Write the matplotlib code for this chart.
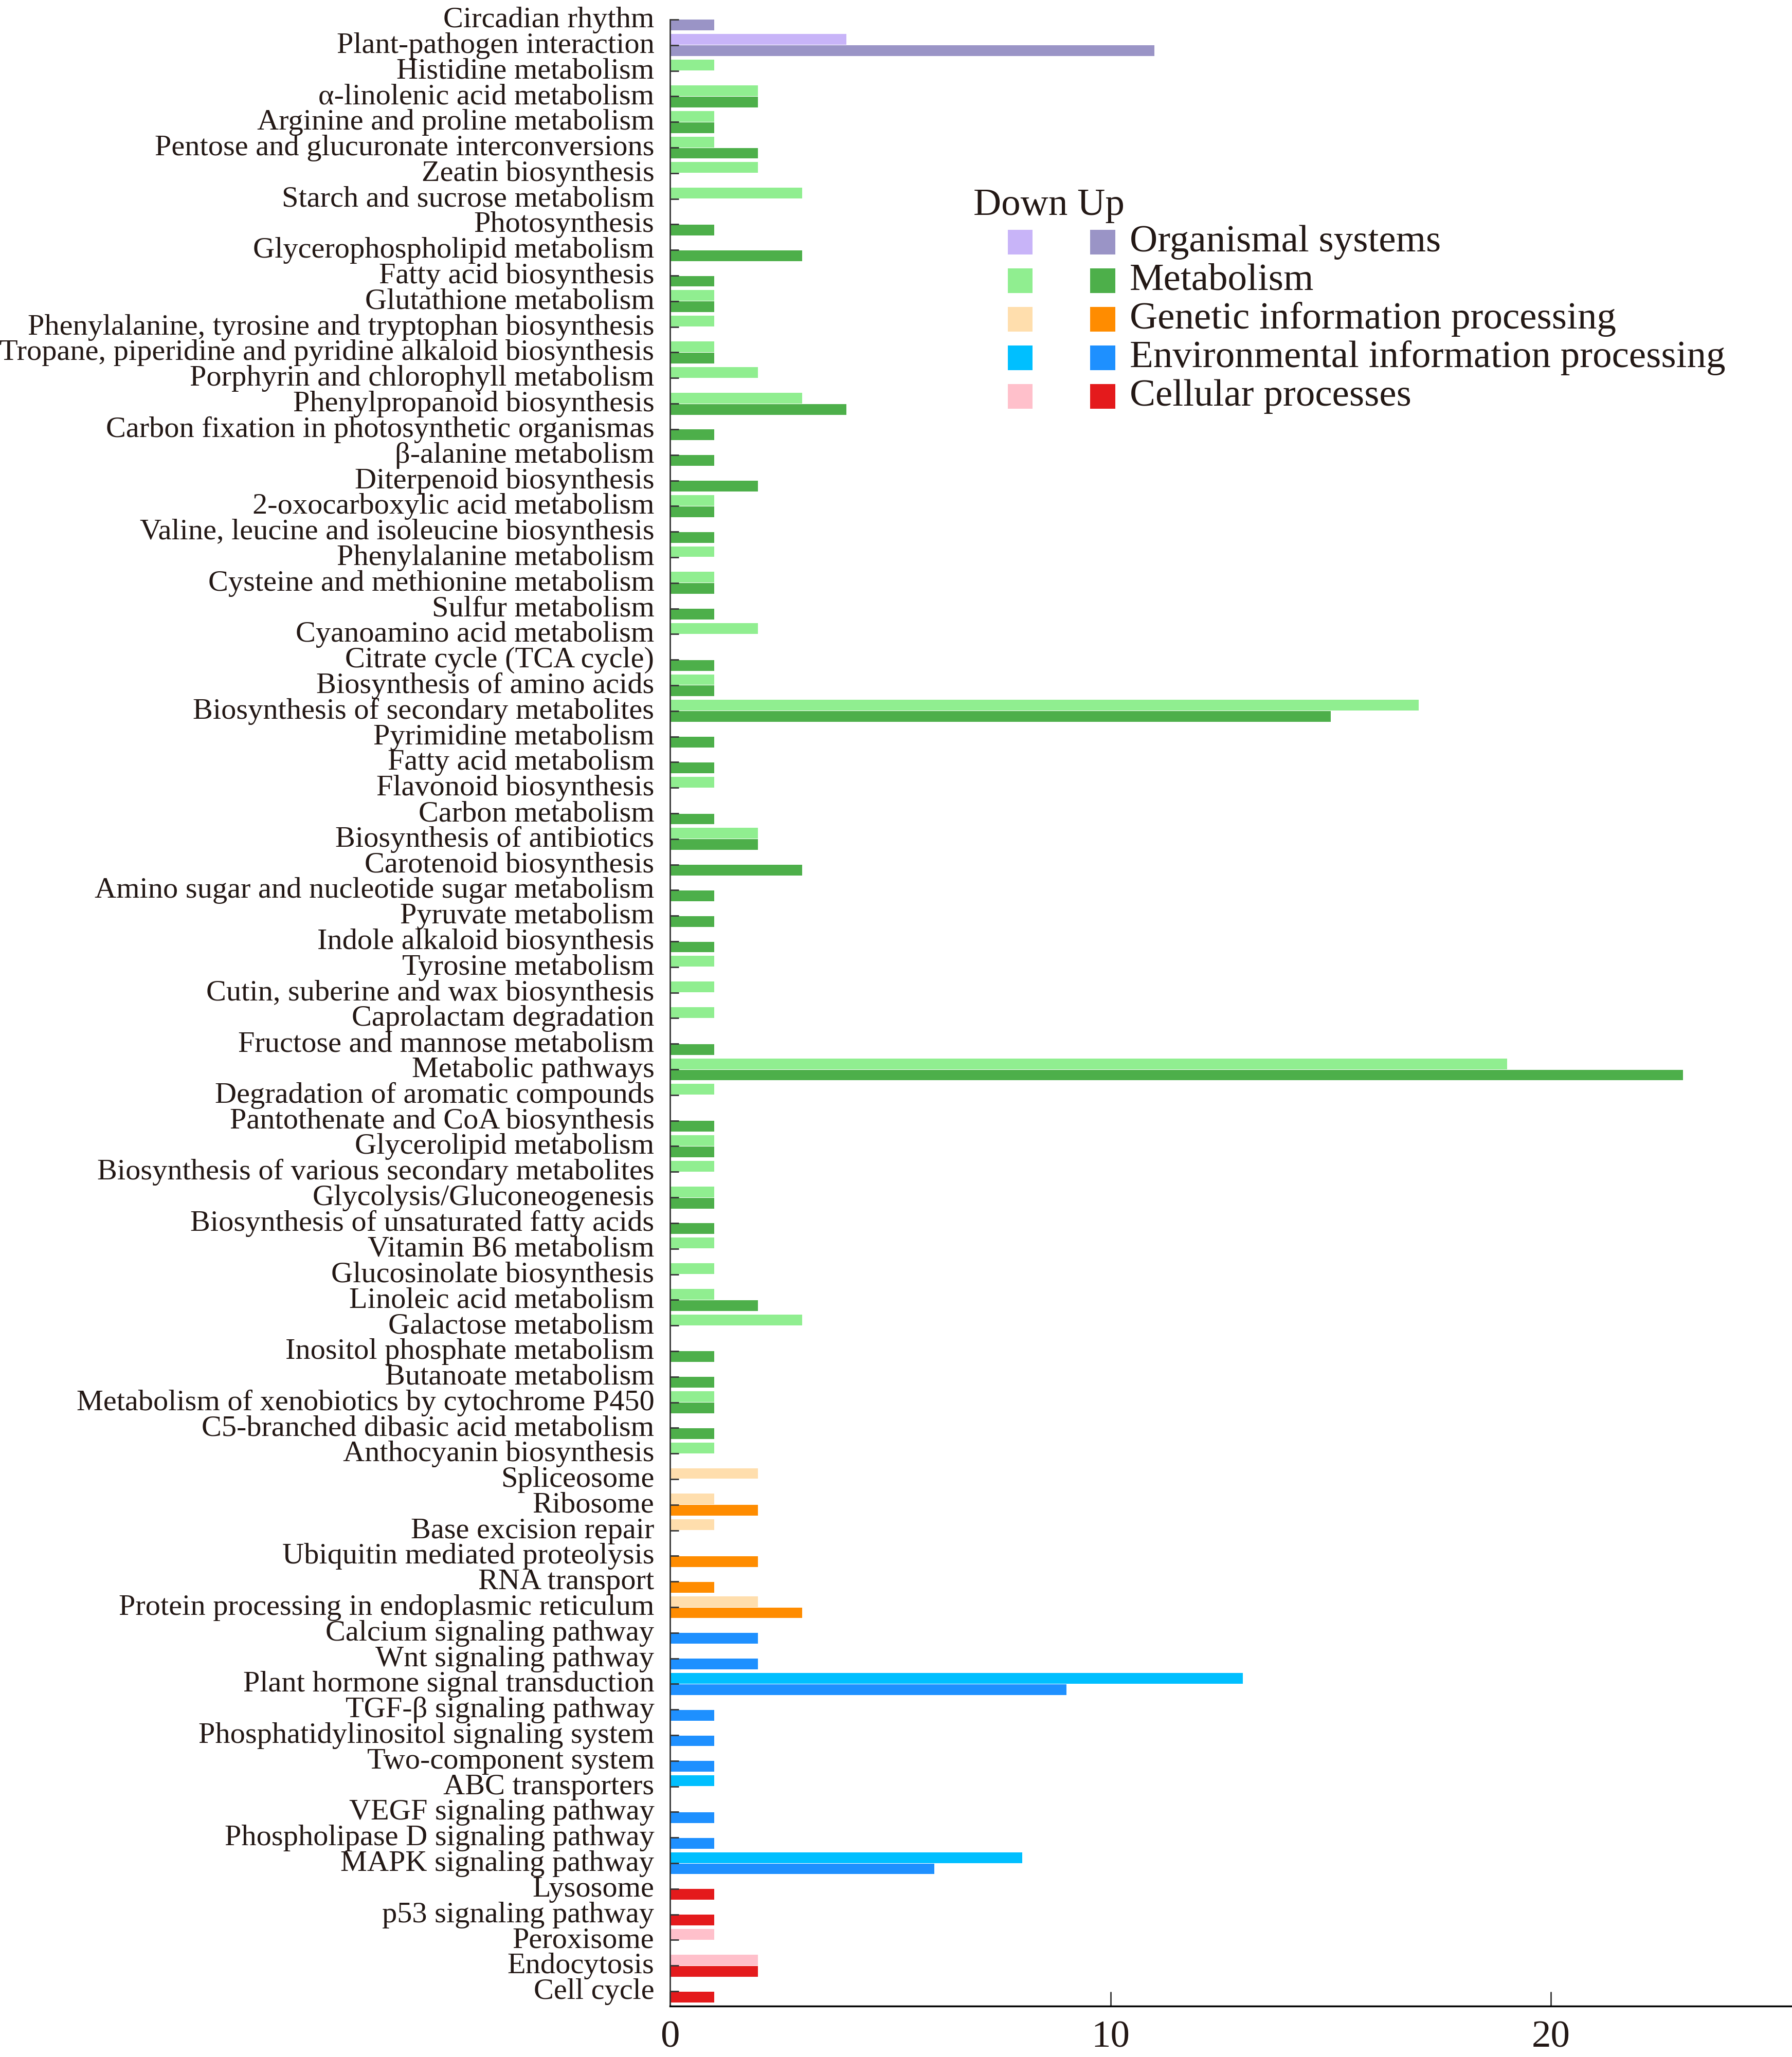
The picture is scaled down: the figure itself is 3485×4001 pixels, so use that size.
import matplotlib
matplotlib.use("Agg")
import matplotlib.pyplot as plt
import matplotlib.transforms as mtransforms
from matplotlib.patches import Rectangle
import numpy as np

plt.rcParams['font.family'] = ['Liberation Serif', 'DejaVu Serif']

pathways = [
    "Circadian rhythm", "Plant-pathogen interaction", "Histidine metabolism",
    "α-linolenic acid metabolism", "Arginine and proline metabolism",
    "Pentose and glucuronate interconversions", "Zeatin biosynthesis",
    "Starch and sucrose metabolism", "Photosynthesis", "Glycerophospholipid metabolism",
    "Fatty acid biosynthesis", "Glutathione metabolism",
    "Phenylalanine, tyrosine and tryptophan biosynthesis",
    "Tropane, piperidine and pyridine alkaloid biosynthesis",
    "Porphyrin and chlorophyll metabolism", "Phenylpropanoid biosynthesis",
    "Carbon fixation in photosynthetic organismas", "β-alanine metabolism",
    "Diterpenoid biosynthesis", "2-oxocarboxylic acid metabolism",
    "Valine, leucine and isoleucine biosynthesis", "Phenylalanine metabolism",
    "Cysteine and methionine metabolism", "Sulfur metabolism",
    "Cyanoamino acid metabolism", "Citrate cycle (TCA cycle)",
    "Biosynthesis of amino acids", "Biosynthesis of secondary metabolites",
    "Pyrimidine metabolism", "Fatty acid metabolism", "Flavonoid biosynthesis",
    "Carbon metabolism", "Biosynthesis of antibiotics", "Carotenoid biosynthesis",
    "Amino sugar and nucleotide sugar metabolism", "Pyruvate metabolism",
    "Indole alkaloid biosynthesis", "Tyrosine metabolism",
    "Cutin, suberine and wax biosynthesis", "Caprolactam degradation",
    "Fructose and mannose metabolism", "Metabolic pathways",
    "Degradation of aromatic compounds", "Pantothenate and CoA biosynthesis",
    "Glycerolipid metabolism", "Biosynthesis of various secondary metabolites",
    "Glycolysis/Gluconeogenesis", "Biosynthesis of unsaturated fatty acids",
    "Vitamin B6 metabolism", "Glucosinolate biosynthesis", "Linoleic acid metabolism",
    "Galactose metabolism", "Inositol phosphate metabolism", "Butanoate metabolism",
    "Metabolism of xenobiotics by cytochrome P450",
    "C5-branched dibasic acid metabolism", "Anthocyanin biosynthesis",
    "Spliceosome", "Ribosome", "Base excision repair", "Ubiquitin mediated proteolysis",
    "RNA transport", "Protein processing in endoplasmic reticulum",
    "Calcium signaling pathway", "Wnt signaling pathway",
    "Plant hormone signal transduction", "TGF-β signaling pathway",
    "Phosphatidylinositol signaling system", "Two-component system",
    "ABC transporters", "VEGF signaling pathway", "Phospholipase D signaling pathway",
    "MAPK signaling pathway", "Lysosome", "p53 signaling pathway", "Peroxisome",
    "Endocytosis", "Cell cycle",
]

down_counts = [
    0, 4, 1, 2, 1, 1, 2, 3, 0, 0, 0, 1, 1, 1, 2, 3, 0, 0, 0, 1,
    0, 1, 1, 0, 2, 0, 1, 17, 0, 0, 1, 0, 2, 0, 0, 0, 0, 1, 1, 1,
    0, 19, 1, 0, 1, 1, 1, 0, 1, 1, 1, 3, 0, 0, 1, 0, 1,
    2, 1, 1, 0, 0, 2,
    0, 0, 13, 0, 0, 0, 1, 0, 0, 8,
    0, 0, 1, 2, 0,
]

up_counts = [
    1, 11, 0, 2, 1, 2, 0, 0, 1, 3, 1, 1, 0, 1, 0, 4, 1, 1, 2, 1,
    1, 0, 1, 1, 0, 1, 1, 15, 1, 1, 0, 1, 2, 3, 1, 1, 1, 0, 0, 0,
    1, 23, 0, 1, 1, 0, 1, 1, 0, 0, 2, 0, 1, 1, 1, 1, 0,
    0, 2, 0, 2, 1, 3,
    2, 2, 9, 1, 1, 1, 0, 1, 1, 6,
    1, 1, 0, 2, 1,
]

groups = (["Organismal systems"] * 2 + ["Metabolism"] * 55 +
          ["Genetic information processing"] * 6 +
          ["Environmental information processing"] * 10 +
          ["Cellular processes"] * 5)

group_names = ["Organismal systems", "Metabolism", "Genetic information processing",
               "Environmental information processing", "Cellular processes"]
down_colors = ["#C8B4F8", "#90EE90", "#FFDEAD", "#00BFFF", "#FFC0CB"]
up_colors = ["#9A94C6", "#4DAF4A", "#FF8C00", "#1E90FF", "#E41A1C"]

W, H = 3485, 4001
fig = plt.figure(figsize=(W / 100, H / 100), dpi=100)
ax_left, ax_bottom_px, ax_top_px = 1303, 3902, 38
ax = fig.add_axes([ax_left / W, (H - ax_bottom_px) / H,
                   1 - ax_left / W, (ax_bottom_px - ax_top_px) / H])

y = np.arange(len(pathways))
dcol = [down_colors[group_names.index(g)] for g in groups]
ucol = [up_colors[group_names.index(g)] for g in groups]
bh = 0.42
# down bar above the category line, up bar below (y axis inverted)
ax.barh(y - 0.01, down_counts, height=-bh, align='edge', color=dcol, linewidth=0)
ax.barh(y + 0.01, up_counts, height=bh, align='edge', color=ucol, linewidth=0)

ax.set_ylim(77.58, 0)
ax.set_xlim(0, 25.47)
ax.set_yticks(y)
ax.set_yticklabels(pathways, fontsize=42, color="#231815")
ax.set_xticks([0, 10, 20])
ax.set_xticklabels(["0", "10", "20"], fontsize=54, color="#231815")
ax.tick_params(axis='y', direction='in', length=12, width=2.0, color="#333333", pad=22)
ax.tick_params(axis='x', direction='in', length=20, width=2.2, color="#444444", pad=20)
for s in ['top', 'right']:
    ax.spines[s].set_visible(False)
ax.spines['left'].set_linewidth(2.0)
ax.spines['left'].set_color("#333333")
ax.spines['bottom'].set_linewidth(2.5)
ax.spines['bottom'].set_color("#000000")

shift = mtransforms.ScaledTranslation(0, 5 / 100, fig.dpi_scale_trans)
for lab in ax.get_yticklabels():
    lab.set_transform(lab.get_transform() + shift)

# legend (manual, pixel layout)
def fx(px):
    return px / W

def fy(py):
    return 1 - py / H

fig.text(fx(1893), fy(418), "Down Up", fontsize=54, ha='left', va='baseline', color="#231815")
for k, name in enumerate(group_names):
    top = 447 + 75 * k
    fig.add_artist(Rectangle((fx(1960), fy(top + 48)), 48 / W, 48 / H,
                             transform=fig.transFigure, color=down_colors[k], lw=0))
    fig.add_artist(Rectangle((fx(2120), fy(top + 48)), 49 / W, 48 / H,
                             transform=fig.transFigure, color=up_colors[k], lw=0))
    fig.text(fx(2197), fy(top + 24), name, fontsize=54, ha='left', va='center',
             color="#231815")

fig.savefig("out.png", dpi=100)
